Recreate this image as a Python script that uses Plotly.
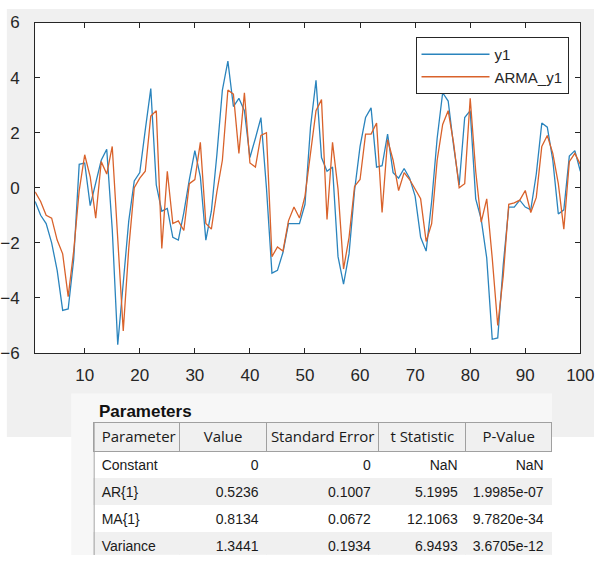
import plotly.graph_objects as go

W, H = 608, 565

x_vals = list(range(1, 101))
y1 = [-0.5, -1.0, -1.3, -2.0, -3.0, -4.45, -4.4, -2.6, 0.85, 0.9,
      -0.65, 0.2, 1.0, 1.4, -1.5, -5.7, -3.4, -1.2, 0.25, 0.55,
      2.1, 3.6, 0.1, -0.85, -0.75, -1.8, -1.9, -0.9, 0.3, 1.35,
      0.4, -1.9, -0.85, 1.2, 3.55, 4.6, 2.95, 3.25, 2.8, 1.1,
      1.8, 2.55, 0.0, -3.1, -3.0, -2.35, -1.3, -1.3, -1.3, -0.6,
      2.2, 3.9, 1.1, 0.6, 0.75, -2.5, -3.5, -2.4, -0.1, 1.5,
      2.55, 2.9, 0.75, 0.8, 1.95, 0.55, 0.35, 0.7, 0.35, -0.3,
      -1.8, -2.3, -0.5, 1.8, 3.45, 3.15, 1.5, 0.1, 2.55, 2.8,
      -0.4, -1.15, -2.55, -5.5, -5.45, -2.8, -0.7, -0.7, -0.45, -0.7,
      -0.8, 0.5, 2.35, 2.2, 1.0, -0.95, -0.8, 1.15, 1.35, 0.6]
arma_y1 = [-0.15, -0.5, -1.0, -1.1, -1.9, -2.4, -3.95, -2.3, -0.1, 1.2,
           0.4, -1.1, 0.95, 0.5, 1.5, -1.8, -5.2, -2.2, 0.0, 0.35,
           0.6, 2.6, 2.8, -2.2, 0.6, -1.3, -1.2, -1.55, 0.15, 0.3,
           1.65, -1.3, -1.5, -0.15, 1.0, 3.55, 3.4, 1.25, 3.45, 0.9,
           0.75, 1.9, 2.0, -2.5, -2.15, -2.3, -1.2, -0.7, -1.1, -0.3,
           1.25, 2.8, 3.2, -1.15, 1.65, -0.05, -2.95, -1.8, 0.05, 0.3,
           1.95, 1.95, 2.35, -0.9, 1.75, 1.0, -0.1, 0.55, 0.3, -0.05,
           -0.4, -1.95, -1.3, 1.0, 2.3, 2.8, 1.6, 0.0, 0.15, 3.25,
           0.6, -1.25, -0.4, -2.55, -5.0, -3.2, -0.6, -0.55, -0.45, -0.1,
           -0.9, -0.35, 1.5, 1.9, 1.25, 0.15, -1.5, 0.95, 1.25, 0.85]

x_ticks = [10, 20, 30, 40, 50, 60, 70, 80, 90, 100]
y_ticks = [-6, -4, -2, 0, 2, 4, 6]

table_title = "Parameters"
col_headers = ["Parameter", "Value", "Standard\u00a0Error", "t\u00a0Statistic", "P-Value"]
param_names = ["Constant", "AR{1}", "MA{1}", "Variance"]
param_values = ["0", "0.5236", "0.8134", "1.3441"]
std_errors = ["0", "0.1007", "0.0672", "0.1934"]
t_stats = ["NaN", "5.1995", "12.1063", "6.9493"]
p_values = ["NaN", "1.9985e-07", "9.7820e-34", "3.6705e-12"]

BLUE = "#2a84bd"
ORANGE = "#d9622b"
AX = "#262626"
FONT = "Liberation Sans, Arial, sans-serif"
HFONT = "Open Sans, DejaVu Sans, sans-serif"


def fx(p):
    return min(1, max(0, p / W))


def fy(p):
    return min(1, max(0, 1 - p / H))


fig = go.Figure()
fig.add_trace(go.Scatter(x=x_vals, y=y1, mode="lines", name="y1",
                         line=dict(color=BLUE, width=1.3)))
fig.add_trace(go.Scatter(x=x_vals, y=arma_y1, mode="lines", name="ARMA_y1",
                         line=dict(color=ORANGE, width=1.3)))

row_fills = ["#ffffff", "#f0f0f0", "#ffffff", "#f0f0f0"]
fig.add_trace(go.Table(
    domain=dict(x=[fx(95), fx(565)], y=[0, fy(428)]),
    columnwidth=[88, 89, 115, 89, 88],
    header=dict(values=col_headers, height=29,
                fill_color="#f0f0f0",
                line=dict(color="#a0a0a0", width=1),
                align=["left", "center", "center", "center", "center"],
                font=dict(family=HFONT, size=15, color="#1a1a1a")),
    cells=dict(values=[param_names, param_values, std_errors, t_stats, p_values],
               height=27,
               fill_color=[row_fills] * 5,
               line=dict(color=[row_fills] * 5, width=1),
               align=["left", "right", "right", "right", "right"],
               font=dict(family=FONT, size=14, color="#1a1a1a")),
))

shapes = [
    # figure grey background
    dict(type="rect", xref="paper", yref="paper", x0=fx(6), x1=1,
         y0=fy(443), y1=1, fillcolor="#f0f0f0", line=dict(width=0), layer="below"),
    # table panel
    dict(type="rect", xref="paper", yref="paper", x0=fx(72), x1=fx(565),
         y0=0, y1=fy(398), fillcolor="#f7f7f7", line=dict(width=0), layer="below"),
    # white axes background
    dict(type="rect", xref="paper", yref="paper", x0=fx(35), x1=fx(594),
         y0=fy(356), y1=fy(14), fillcolor="white", line=dict(width=0), layer="below"),
    # table left border
    dict(type="line", xref="paper", yref="paper", x0=fx(95.5), x1=fx(95.5),
         y0=0, y1=fy(428), line=dict(color="#a0a0a0", width=1)),
]

fig.update_layout(
    width=W, height=H,
    margin=dict(l=0, r=0, t=0, b=0),
    paper_bgcolor="white",
    plot_bgcolor="white",
    font=dict(family=FONT, color=AX),
    shapes=shapes,
    annotations=[dict(text="<b>" + table_title + "</b>", xref="paper", yref="paper",
                      x=fx(98), y=fy(416), xanchor="left", yanchor="middle",
                      showarrow=False, font=dict(family=FONT, size=17, color="#111111"))],
    xaxis=dict(domain=[fx(35), fx(594)], range=[1, 100], tickvals=x_ticks,
               ticks="inside", ticklen=5, tickcolor=AX, showline=True, linecolor=AX,
               linewidth=1, mirror="ticks", showgrid=False, zeroline=False,
               ticklabelstandoff=7, ticklabeloverflow="allow",
               tickfont=dict(size=17, color=AX, family=FONT)),
    yaxis=dict(domain=[fy(356), fy(14)], range=[-6, 6], tickvals=y_ticks,
               ticks="inside", ticklen=5, tickcolor=AX, showline=True, linecolor=AX,
               linewidth=1, mirror="ticks", showgrid=False, zeroline=False,
               ticklabelstandoff=11, ticklabeloverflow="allow",
               tickfont=dict(size=17, color=AX, family=FONT)),
    legend=dict(x=fx(425), y=fy(29), xanchor="left", yanchor="top",
                bgcolor="white", bordercolor=AX, borderwidth=1,
                font=dict(size=15, color=AX, family=FONT),
                itemwidth=68, tracegroupgap=0),
    showlegend=True,
    hovermode=False,
)

fig.write_html("out.html",
               config={"displayModeBar": False, "staticPlot": True},
               post_script="document.body.style.margin='0';"
                           "document.documentElement.style.overflow='hidden';")
